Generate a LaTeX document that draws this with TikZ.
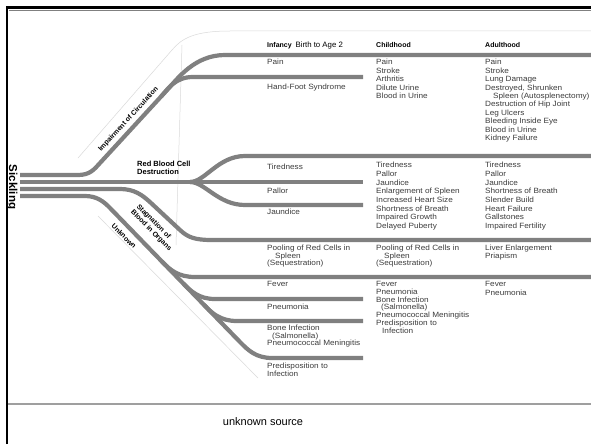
\documentclass[tikz,border=0pt]{standalone}
\usepackage{fontspec}
\setmainfont{Liberation Sans}
\newfontfamily\itemfam[FakeStretch=1.08]{Liberation Sans}
\usetikzlibrary{positioning}
\definecolor{cBand}{RGB}{128,128,128}
\definecolor{cText}{RGB}{60,60,60}
\definecolor{cCrease}{RGB}{218,218,218}
\tikzset{
	band/.style={draw=cBand, line width=4.2pt},
	crease/.style={draw=cCrease, line width=0.5pt},
	item/.style={anchor=north west, inner sep=0pt, align=left, text=cText, font=\itemfam\fontsize{7.6}{8.45}\selectfont},
	hdr/.style={anchor=north west, inner sep=0pt, font=\fontsize{7}{8}\selectfont},
	lbl/.style={inner sep=0pt, align=left, font=\fontsize{7}{8}\selectfont\bfseries},
}

\begin{document}
\begin{tikzpicture}[x=1pt, y=-1pt]
	\useasboundingbox (0,0) rectangle (591,444);
	\fill[white] (0,0) rectangle (591,444);
	% paper edges and folds of the scan
	\draw[crease] (78,158) -- (172,50) .. controls (182,38) and (195,31) .. (230,31) -- (591,31);
	\draw[crease] (98,216) -- (258,378);
	\draw[crease] (182,45) -- (176,245);
	% branch points
	\coordinate (c1) at (100,163);
	\coordinate (c2) at (168,89);
	\coordinate (c3) at (161,96.6);
	\coordinate (fork) at (190,182);
	\coordinate (d1) at (162,261.6);
	\coordinate (d2) at (183,283.2);
	\coordinate (d3) at (204,304.9);
	% impairment of circulation
	\draw[band] (20,175) -- (78,175) .. controls (90,175) and (94,169.5) .. (c1) -- (c2)
		.. controls (178,78.1) and (195,55) .. (225,55) -- (591,55);
	\draw[band] (c3) .. controls (168,89) and (175,77) .. (193,77) -- (363,77);
	% red blood cell destruction
	\draw[band] (20,182) -- (363,182);
	\draw[band] (fork) .. controls (205,182) and (218,156) .. (245,156) -- (591,156);
	\draw[band] (fork) .. controls (205,182) and (218,205) .. (245,205) -- (363,205);
	% stagnation of blood in organs
	\draw[band] (20,189) -- (120,189) .. controls (134,189) and (142,194.6) .. (151,203) -- (180,230)
		.. controls (188,237.5) and (195,240) .. (212,240) -- (591,240);
	% unknown
	\draw[band] (20,196) -- (85,196) .. controls (97,196) and (104,201.8) .. (110,208) -- (240,342)
		.. controls (248,350.2) and (256,358) .. (272,358) -- (363,358);
	\draw[band] (d1) .. controls (170,269.8) and (178,277) .. (195,277) -- (591,277);
	\draw[band] (d2) .. controls (191,291.4) and (199,299) .. (215,299) -- (363,299);
	\draw[band] (d3) .. controls (212,313.1) and (220,321) .. (237,321) -- (363,321);

	\node[rotate=-90, font=\fontsize{11.5}{12}\selectfont\bfseries] (sick) at (12,187) {Sickling};
	\node[lbl, rotate=47.4] (imp) at (128.5,119.5) {Impairment of Circulation};
	\node[lbl, anchor=north west, font=\fontsize{7.5}{8}\selectfont\bfseries] (rbc) at (137,161) {Red Blood Cell\\Destruction};
	\node[lbl, rotate=-45] (stag) at (154,228) {Stagnation of\\Blood in Organs};
	\node[lbl, rotate=-45] (unk) at (124,236) {Unknown};

	% column heads
	\node[hdr] (hInf) at (267,42) {\textbf{Infancy}\ \ {\fontsize{7.8}{8}\selectfont Birth to Age 2}};
	\node[hdr] (hChild) at (376,42) {\textbf{Childhood}};
	\node[hdr] (hAdult) at (485,42) {\textbf{Adulthood}};

	% first row
	\node[item] (i1a) at (267,59) {Pain};
	\node[item] (i1b) at (267,84) {Hand-Foot Syndrome};
	\node[item] (ch1) at (376,59) {Pain\\Stroke\\Arthritis\\Dilute Urine\\Blood in Urine};
	\node[item] (ad1) at (485,59) {Pain\\Stroke\\Lung Damage\\Destroyed, Shrunken\\\hspace*{8pt}Spleen (Autosplenectomy)\\Destruction of Hip Joint\\Leg Ulcers\\Bleeding Inside Eye\\Blood in Urine\\Kidney Failure};

	% second row
	\node[item] (i2a) at (267,164) {Tiredness};
	\node[item] (i2b) at (267,188) {Pallor};
	\node[item] (i2c) at (267,209) {Jaundice};
	\node[item, font=\itemfam\fontsize{7.6}{8.7}\selectfont] (ch2) at (376,162) {Tiredness\\Pallor\\Jaundice\\Enlargement of Spleen\\Increased Heart Size\\Shortness of Breath\\Impaired Growth\\Delayed Puberty};
	\node[item, font=\itemfam\fontsize{7.6}{8.7}\selectfont] (ad2) at (485,162) {Tiredness\\Pallor\\Jaundice\\Shortness of Breath\\Slender Build\\Heart Failure\\Gallstones\\Impaired Fertility};

	% third row
	\node[item, font=\itemfam\fontsize{7.6}{7.6}\selectfont] (i3) at (267,245) {Pooling of Red Cells in\\\hspace*{8pt}Spleen\\(Sequestration)};
	\node[item, font=\itemfam\fontsize{7.6}{7.6}\selectfont] (ch3) at (376,245) {Pooling of Red Cells in\\\hspace*{8pt}Spleen\\(Sequestration)};
	\node[item, font=\itemfam\fontsize{7.6}{7.8}\selectfont] (ad3) at (485,245) {Liver Enlargement\\Priapism};

	% fourth row
	\node[item] (i4a) at (267,281) {Fever};
	\node[item] (i4b) at (267,304) {Pneumonia};
	\node[item, font=\itemfam\fontsize{7.6}{7.6}\selectfont] (i4c) at (267,325) {Bone Infection\\\hspace*{5pt}(Salmonella)\\Pneumococcal Meningitis};
	\node[item, font=\itemfam\fontsize{7.6}{7.4}\selectfont] (i4d) at (267,363) {Predisposition to\\Infection};
	\node[item, font=\itemfam\fontsize{7.6}{7.8}\selectfont] (ch4) at (376,281) {Fever\\Pneumonia\\Bone Infection\\\hspace*{5pt}(Salmonella)\\Pneumococcal Meningitis\\Predisposition to\\\hspace*{6pt}Infection};
	\node[item, font=\itemfam\fontsize{7.6}{8.7}\selectfont] (ad4) at (485,281) {Fever\\Pneumonia};

	% frame and caption
	\draw[line width=2.8pt] (7,444) -- (7,7.5) -- (591,7.5);
	\draw[gray, line width=0.6pt] (9,10.5) -- (591,10.5);
	\draw[gray!75, line width=2.2pt] (8,404) -- (591,404);
	\node[font=\fontsize{11}{12}\selectfont] (src) at (263,422) {unknown source};
\end{tikzpicture}
\end{document}
